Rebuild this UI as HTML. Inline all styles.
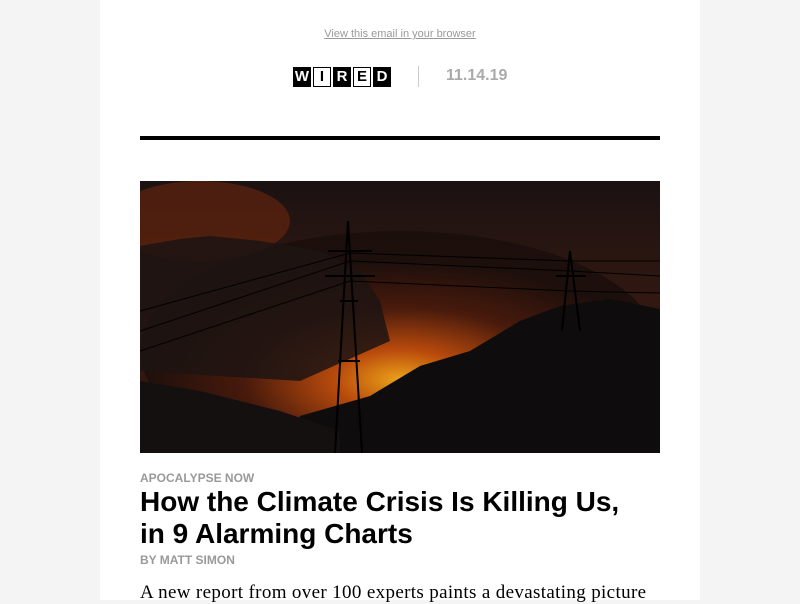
<!DOCTYPE html>
<html><head><meta charset="utf-8"><style>
body{margin:0;width:800px;height:600px;overflow:hidden;background:#f4f4f4;font-family:"Liberation Sans",sans-serif}
.col{position:absolute;left:100px;top:0;width:600px;height:600px;background:#fff}
.abs{position:absolute}
.logo span{display:inline-block;width:18px;height:20px;margin-right:2px;font:bold 15px/20px "Liberation Sans",sans-serif;text-align:center}
.b{background:#000;color:#fff}.w{background:#fff;color:#000;box-shadow:inset 0 0 0 1px #000}
</style></head><body>
<div class="col">
<a class="abs" style="left:0;width:600px;top:28px;text-align:center;font-size:11px;color:#999;text-decoration:underline">View this email in your browser</a>
<div class="abs logo" style="left:193px;top:67px;white-space:nowrap"><span class="b">W</span><span class="w">I</span><span class="b">R</span><span class="w">E</span><span class="b">D</span></div>
<div class="abs" style="left:318px;top:66px;width:1px;height:21px;background:#ccc"></div>
<div class="abs" style="left:346px;top:67px;font-size:16px;font-weight:bold;color:#aaa">11.14.19</div>
<div class="abs" style="left:40px;top:136px;width:520px;height:4px;background:#000"></div>
<svg class="abs" style="left:40px;top:181px" width="520" height="272" viewBox="0 0 520 272">
<defs>
<radialGradient id="g1" cx="0.5" cy="0.62" r="0.5"><stop offset="0" stop-color="#ffb21a"/><stop offset="0.25" stop-color="#c8500c"/><stop offset="0.6" stop-color="#4a1a0c"/><stop offset="1" stop-color="#1a0e0c"/></radialGradient>
<linearGradient id="sky" x1="0" y1="0" x2="0" y2="1"><stop offset="0" stop-color="#1b1212"/><stop offset="0.6" stop-color="#3a1a10"/><stop offset="1" stop-color="#201010"/></linearGradient>
</defs>
<rect width="520" height="272" fill="url(#sky)"/>
<ellipse cx="260" cy="170" rx="260" ry="120" fill="url(#g1)" opacity="0.9"/>
<ellipse cx="60" cy="40" rx="90" ry="40" fill="#7a2a0c" opacity="0.5"/>
<path d="M0 65 L40 58 L70 55 L120 60 L180 70 L220 90 L240 120 L250 160 L160 200 L0 190Z" fill="#1d1413" opacity="0.85"/>
<path d="M150 272 L160 235 L230 215 L280 185 L330 170 L380 140 L420 125 L470 118 L520 128 L520 272Z" fill="#0e0c0c"/>
<path d="M0 272 L0 200 L60 210 L140 230 L200 250 L200 272Z" fill="#151010"/>
<g stroke="#000" stroke-width="2" fill="none">
<path d="M195 272 L208 40 L222 272 M200 120 L218 120 M198 180 L220 180 M188 70 L232 70 M185 95 L235 95"/>
<path d="M422 150 L430 70 L440 150 M416 95 L446 95"/>
<path d="M0 150 L210 80 L430 90 L520 95 M0 170 L210 100 L430 110 L520 112 M0 130 L210 72 L430 80 L520 80" stroke-width="1"/>
</g>
</svg>
<div class="abs" style="left:40px;top:471px;font-size:12px;font-weight:bold;color:#999">APOCALYPSE NOW</div>
<div class="abs" style="left:40px;top:486px;width:520px;font-size:28px;line-height:32px;font-weight:bold;color:#000;white-space:nowrap">How the Climate Crisis Is Killing Us,<br>in 9 Alarming Charts</div>
<div class="abs" style="left:40px;top:553px;font-size:12px;font-weight:bold;color:#999">BY MATT SIMON</div>
<div class="abs" style="left:40px;top:582px;white-space:nowrap;font-family:'Liberation Serif',serif;font-size:19px;letter-spacing:0.35px;color:#000">A new report from over 100 experts paints a devastating picture</div>
</div>
</body></html>
